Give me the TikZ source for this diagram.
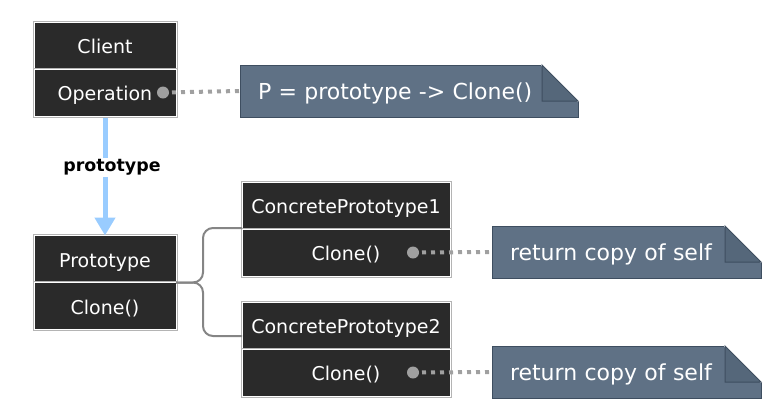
\documentclass[tikz,border=0pt]{standalone}
\usepackage{fontspec}
\setmainfont{DejaVu Sans}
\usetikzlibrary{calc,arrows.meta,positioning}
\usepackage{xcolor}

\definecolor{boxdark}{HTML}{2A2A2A}
\definecolor{boxrim}{HTML}{B4B4B4}
\definecolor{notefill}{HTML}{5F7185}
\definecolor{noteedge}{HTML}{3E4E60}
\definecolor{notefold}{HTML}{55677A}
\definecolor{linkblue}{HTML}{99CCFF}
\definecolor{dotgray}{HTML}{A0A0A0}
\definecolor{bracegray}{HTML}{858585}

\tikzset{
    classbox/.style={rectangle, fill=boxdark, draw=white, line width=1pt,
        preaction={draw=boxrim, line width=3pt}, text=white, outer sep=0pt,
        font=\fontsize{19}{22}\selectfont, inner sep=0pt, minimum height=47pt,
        text height=18pt, text depth=2pt},
    notebox/.style={rectangle, fill=notefill, draw=noteedge, line width=1pt, text=white,
        font=\fontsize{22}{26}\selectfont, inner xsep=18pt, inner ysep=0pt,
        minimum height=52pt, align=left, outer sep=0pt, text height=20pt, text depth=4pt},
    dotlink/.style={dotgray, line width=4pt, dash pattern=on 4pt off 5pt},
    brace/.style={bracegray, line width=2pt, rounded corners=10pt},
}

\newcommand{\foldcorner}[1]{%
    \filldraw[white, line width=2pt, line join=round] ($(#1.north east)+(-36,0)$) -- (#1.north east) -- ($(#1.north east)+(0,36)$) -- cycle;
    \filldraw[fill=notefold, draw=noteedge, line width=1pt] ($(#1.north east)+(-36,0)$) -- ($(#1.north east)+(0,36)$) -- ($(#1.north east)+(-36,36)$) -- cycle;
}

\begin{document}
\begin{tikzpicture}[x=1pt,y=-1pt]
        \useasboundingbox (0,0) rectangle (779,416);

        % client
        \node[classbox, minimum width=142pt] (clienthead) at (105,45.5) {Client};
        \node[classbox, minimum width=142pt, below=0pt of clienthead] (clientop) {Operation};
        \coordinate (opdot) at ($(clientop.east)+(-13,0)$);
        \node[notebox, text width=302pt, anchor=west] (opnote) at (240,91) {P = prototype -> Clone()};
        \draw[dotlink] (opdot) -- (opnote.west);
        \fill[dotgray] (opdot) circle (6pt);
        \foldcorner{opnote}

        % prototype
        \node[classbox, minimum width=142pt] (protohead) at (105,259) {Prototype};
        \node[classbox, minimum width=142pt, below=0pt of protohead] (protoclone) {Clone()};
        \draw[linkblue, line width=5pt, -{Triangle[width=20pt,length=18pt]}] ($(clientop.south)+(0,1.5)$) -- node[pos=0.42, xshift=7pt, fill=white, text=black, inner sep=1.5pt, font=\bfseries\fontsize{17.4}{20}\selectfont] (protolabel) {prototype} (protohead.north);

        % concrete prototypes
        \foreach \k/\y in {1/205.5,2/325.5} {
                \node[classbox, minimum width=208pt] (cp\k head) at (346,\y) {ConcretePrototype\k};
                \node[classbox, minimum width=208pt, below=0pt of cp\k head] (cp\k clone) {Clone()};
                \coordinate (cp\k dot) at ($(cp\k clone.east)+(-37,0)$);
                \node[notebox, text width=233pt, anchor=west] (cp\k note) at (492,\y+46.5) {return copy of self};
                \draw[dotlink] (cp\k dot) -- (cp\k note.west);
                \fill[dotgray] (cp\k dot) circle (6pt);
                \foldcorner{cp\k note}
            }

        \draw[brace] (protohead.south east) -- ++(27,0) |- ($(cp1head.south west)+(0,-1)$);
        \draw[brace] (protohead.south east) -- ++(27,0) |- ($(cp2head.south west)+(0,-13)$);

    \end{tikzpicture}
\end{document}
